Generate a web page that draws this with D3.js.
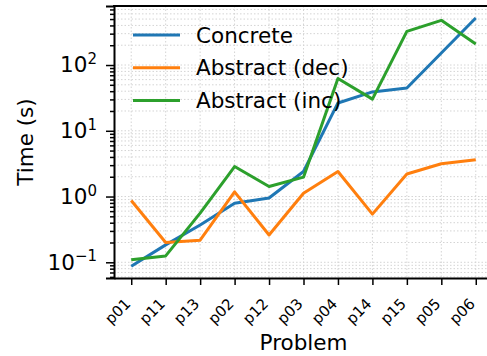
<!DOCTYPE html>
<html>
<head>
<meta charset="utf-8">
<script src="https://cdn.jsdelivr.net/npm/d3@7"></script>
<style>
  body { margin: 0; background: #fff; }
  svg { display: block; font-family: "DejaVu Sans", sans-serif; }
</style>
</head>
<body>
<div id="chart"></div>
<script>
// problems along the x axis
var problems = ["p01", "p11", "p13", "p02", "p12", "p03", "p04", "p14", "p15", "p05", "p06"];

// run times in seconds
var concrete    = [0.087, 0.184, 0.37, 0.79, 0.95, 2.4, 26.5, 39, 44.7, 152, 519];
var abstractDec = [0.87, 0.20, 0.217, 1.18, 0.26, 1.12, 2.4, 0.54, 2.2, 3.15, 3.62];
var abstractInc = [0.109, 0.125, 0.56, 2.86, 1.42, 1.97, 62.5, 30.3, 325, 478, 209];

var seriesNames = ["Concrete", "Abstract (dec)", "Abstract (inc)"];
var seriesColors = ["#1f77b4", "#ff7f0e", "#2ca02c"];
var majorTicks = [0.1, 1, 10, 100];

var width = 487, height = 356;
var margin = {top: 6, left: 114, right: 493, bottom: 278}; // right edge falls outside the window

var svg = d3.select("#chart").append("svg")
    .attr("width", width)
    .attr("height", height);

var x = d3.scalePoint()
    .domain(problems)
    .range([margin.left, margin.right])
    .padding(0.5);

var y = d3.scaleLog()
    .domain([0.0577, 790])
    .range([margin.bottom, margin.top]);

// minor tick values 2..9 x 10^k inside the domain
var minorTicks = [];
[-2, -1, 0, 1, 2].forEach(function(k){
    for (var m = 2; m <= 9; m++){
        var v = m * Math.pow(10, k);
        if (v >= y.domain()[0] && v <= y.domain()[1]) minorTicks.push(v);
    }
});

//**************************************************************************
//** grid
//**************************************************************************
var grid = svg.append("g")
    .attr("stroke", "#d4d4d4")
    .attr("stroke-width", 1)
    .attr("stroke-dasharray", "1.5,2");

grid.selectAll(".hgrid")
    .data(majorTicks.concat(minorTicks))
    .enter().append("line")
    .attr("x1", margin.left).attr("x2", margin.right)
    .attr("y1", function(d){ return y(d); })
    .attr("y2", function(d){ return y(d); });

grid.selectAll(".vgrid")
    .data(problems)
    .enter().append("line")
    .attr("y1", margin.top).attr("y2", margin.bottom)
    .attr("x1", function(d){ return x(d); })
    .attr("x2", function(d){ return x(d); });

//**************************************************************************
//** lines
//**************************************************************************
var allSeries = [concrete, abstractDec, abstractInc];
var line = d3.line()
    .x(function(d, i){ return x(problems[i]); })
    .y(function(d){ return y(d); });

allSeries.forEach(function(values, i){
    svg.append("path")
        .datum(values)
        .attr("fill", "none")
        .attr("stroke", seriesColors[i])
        .attr("stroke-width", 3)
        .attr("stroke-linejoin", "round")
        .attr("d", line);
});

//**************************************************************************
//** axes
//**************************************************************************
var yAxis = svg.append("g")
    .attr("transform", "translate(" + margin.left + ",0)")
    .call(d3.axisLeft(y).tickValues(majorTicks).tickSize(8).tickPadding(9)
        .tickFormat(function(d){ return Math.round(Math.log10(d)); }));

yAxis.selectAll(".tick text")
    .attr("font-size", 21.5)
    .attr("font-family", "DejaVu Sans")
    .attr("fill", "#000")
    .each(function(d){
        var t = d3.select(this);
        var e = Math.round(Math.log10(d));
        var sup = e < 0 ? "\u2212" + Math.abs(e) : "" + e;
        t.text(null);
        t.append("tspan").text("10");
        t.append("tspan").attr("font-size", 15).attr("dy", "-0.55em").text(sup);
    });

svg.append("g")
    .attr("transform", "translate(" + margin.left + ",0)")
    .call(d3.axisLeft(y).tickValues(minorTicks).tickSize(4).tickFormat(""))
    .select(".domain").remove();

var xAxis = svg.append("g")
    .attr("transform", "translate(0," + margin.bottom + ")")
    .call(d3.axisBottom(x).tickSize(7).tickSizeOuter(0));

xAxis.selectAll(".tick text")
    .attr("font-size", 15)
    .attr("font-family", "DejaVu Sans")
    .attr("fill", "#000")
    .attr("text-anchor", "end")
    .attr("dy", "0.35em")
    .attr("y", 0)
    .attr("transform", "translate(-4,23) rotate(-45)");

svg.selectAll(".tick line").attr("stroke", "#000").attr("stroke-width", 1.5);
svg.selectAll(".domain").attr("stroke", "#000").attr("stroke-width", 2);

// top spine
svg.append("line")
    .attr("x1", margin.left - 1).attr("x2", margin.right)
    .attr("y1", margin.top).attr("y2", margin.top)
    .attr("stroke", "#000").attr("stroke-width", 2);

//**************************************************************************
//** labels
//**************************************************************************
svg.append("text")
    .attr("transform", "translate(33," + ((margin.top + margin.bottom) / 2) + ") rotate(-90)")
    .attr("text-anchor", "middle")
    .attr("font-size", 21.5)
    .text("Time (s)");

svg.append("text")
    .attr("x", (margin.left + margin.right) / 2)
    .attr("y", 350)
    .attr("text-anchor", "middle")
    .attr("font-size", 21.5)
    .text("Problem");

//**************************************************************************
//** legend
//**************************************************************************
var legend = svg.append("g").attr("transform", "translate(133,35)");
seriesNames.forEach(function(name, i){
    var row = legend.append("g").attr("transform", "translate(0," + (i * 32.7) + ")");
    row.append("line")
        .attr("x1", 0).attr("x2", 47)
        .attr("stroke", seriesColors[i])
        .attr("stroke-width", 3);
    row.append("text")
        .attr("x", 63)
        .attr("dy", "0.36em")
        .attr("font-size", 21.5)
        .text(name);
});
</script>
</body>
</html>
